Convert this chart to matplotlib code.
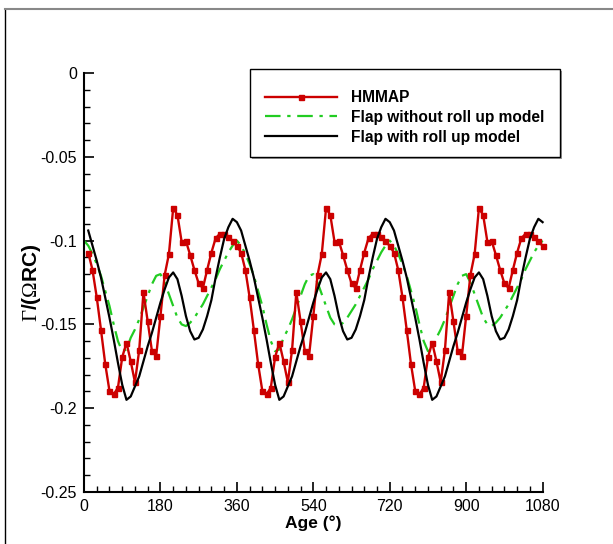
import numpy as np
import matplotlib
matplotlib.use("Agg")
import matplotlib.pyplot as plt
from matplotlib.patches import Rectangle
from matplotlib.lines import Line2D
from matplotlib.ticker import MultipleLocator

plt.rcParams['font.family'] = ['Liberation Sans', 'DejaVu Sans']
plt.rcParams['mathtext.fontset'] = 'custom'
plt.rcParams['mathtext.rm'] = 'Liberation Serif'
plt.rcParams['mathtext.bf'] = 'Liberation Sans:weight=bold'

# ---------------- data ----------------
hmmap_age = np.arange(10, 1081, 10)
hmmap = [
    -0.1072, -0.1175, -0.1338, -0.1533, -0.1736, -0.1897, -0.1917, -0.1877, -0.1696, -0.1609,
    -0.1720, -0.1845, -0.1653, -0.1308, -0.1482, -0.1659, -0.1687, -0.1450, -0.1205, -0.1080,
    -0.0807, -0.0847, -0.1008, -0.1002, -0.1086, -0.1175, -0.1255, -0.1283, -0.1175, -0.1072,
    -0.0986, -0.0959, -0.0959, -0.0980, -0.1002, -0.1032,
    -0.1072, -0.1175, -0.1338, -0.1533, -0.1736, -0.1897, -0.1917, -0.1877, -0.1696, -0.1609,
    -0.1720, -0.1845, -0.1653, -0.1308, -0.1482, -0.1659, -0.1687, -0.1450, -0.1205, -0.1080,
    -0.0807, -0.0847, -0.1008, -0.1002, -0.1086, -0.1175, -0.1255, -0.1283, -0.1175, -0.1072,
    -0.0986, -0.0959, -0.0959, -0.0980, -0.1002, -0.1032,
    -0.1072, -0.1175, -0.1338, -0.1533, -0.1736, -0.1897, -0.1917, -0.1877, -0.1696, -0.1609,
    -0.1720, -0.1845, -0.1653, -0.1308, -0.1482, -0.1659, -0.1687, -0.1450, -0.1205, -0.1080,
    -0.0807, -0.0847, -0.1008, -0.1002, -0.1086, -0.1175, -0.1255, -0.1283, -0.1175, -0.1072,
    -0.0986, -0.0959, -0.0959, -0.0980, -0.1002, -0.1032,
]

flap_roll_age = np.arange(10, 1081, 10)
flap_roll = [
    -0.094, -0.103, -0.112, -0.122, -0.134, -0.146, -0.159, -0.173, -0.186, -0.195,
    -0.193, -0.187, -0.181, -0.172, -0.163, -0.155, -0.146, -0.137, -0.129, -0.122,
    -0.119, -0.123, -0.133, -0.145, -0.154, -0.159, -0.158, -0.153, -0.145, -0.1355,
    -0.122, -0.110, -0.099, -0.092, -0.087, -0.089,
    -0.094, -0.103, -0.112, -0.122, -0.134, -0.146, -0.159, -0.173, -0.186, -0.195,
    -0.193, -0.187, -0.181, -0.172, -0.163, -0.155, -0.146, -0.137, -0.129, -0.122,
    -0.119, -0.123, -0.133, -0.145, -0.154, -0.159, -0.158, -0.153, -0.145, -0.1355,
    -0.122, -0.110, -0.099, -0.092, -0.087, -0.089,
    -0.094, -0.103, -0.112, -0.122, -0.134, -0.146, -0.159, -0.173, -0.186, -0.195,
    -0.193, -0.187, -0.181, -0.172, -0.163, -0.155, -0.146, -0.137, -0.129, -0.122,
    -0.119, -0.123, -0.133, -0.145, -0.154, -0.159, -0.158, -0.153, -0.145, -0.1355,
    -0.122, -0.110, -0.099, -0.092, -0.087, -0.089,
]

flap_noroll_age = np.arange(0, 1081, 10)
flap_noroll = [
    -0.100, -0.103, -0.108, -0.114, -0.121, -0.130, -0.139, -0.150, -0.160, -0.166,
    -0.165, -0.158, -0.153, -0.147, -0.140, -0.133, -0.126, -0.121, -0.120, -0.125,
    -0.132, -0.139, -0.146, -0.150, -0.151, -0.149, -0.146, -0.142, -0.138, -0.133,
    -0.128, -0.123, -0.117, -0.112, -0.107, -0.103,
    -0.100, -0.103, -0.108, -0.114, -0.121, -0.130, -0.139, -0.150, -0.160, -0.166,
    -0.165, -0.158, -0.153, -0.147, -0.140, -0.133, -0.126, -0.121, -0.120, -0.125,
    -0.132, -0.139, -0.146, -0.150, -0.151, -0.149, -0.146, -0.142, -0.138, -0.133,
    -0.128, -0.123, -0.117, -0.112, -0.107, -0.103,
    -0.100, -0.103, -0.108, -0.114, -0.121, -0.130, -0.139, -0.150, -0.160, -0.166,
    -0.165, -0.158, -0.153, -0.147, -0.140, -0.133, -0.126, -0.121, -0.120, -0.125,
    -0.132, -0.139, -0.146, -0.150, -0.151, -0.149, -0.146, -0.142, -0.138, -0.133,
    -0.128, -0.123, -0.117, -0.112, -0.107, -0.103,
    -0.100,
]

x_ticks = [0, 180, 360, 540, 720, 900, 1080]
y_ticks = [-0.25, -0.2, -0.15, -0.1, -0.05, 0]
y_ticklabels = ['-0.25', '-0.2', '-0.15', '-0.1', '-0.05', '0']
labels = ['HMMAP', 'Flap without roll up model', 'Flap with roll up model']

# ---------------- figure ----------------
W, H = 613, 544
fig = plt.figure(figsize=(W / 100, H / 100), dpi=100)
ax = fig.add_axes([84 / W, 1 - 492 / H, (542.6 - 84) / W, (492 - 73) / H])

red = '#cc0000'
green = '#22cc22'
l1, = ax.plot(hmmap_age, hmmap, color=red, lw=1.7, marker='s', ms=3.6,
              mec=red, mfc=red, clip_on=False, zorder=3)
l2, = ax.plot(flap_noroll_age, flap_noroll, color=green, lw=1.6,
              dashes=[7, 3, 1.5, 3], clip_on=False, zorder=2)
l3, = ax.plot(flap_roll_age, flap_roll, color='black', lw=1.6,
              clip_on=False, zorder=4)

ax.set_xlim(0, 1080)
ax.set_ylim(-0.25, 0)
ax.set_xticks(x_ticks)
ax.set_xticklabels([str(v) for v in x_ticks])
ax.set_yticks(y_ticks)
ax.set_yticklabels(y_ticklabels)
ax.xaxis.set_minor_locator(MultipleLocator(30))
ax.yaxis.set_minor_locator(MultipleLocator(0.01))
ax.tick_params(which='major', direction='in', length=7, width=1.2,
               labelsize=11.5, pad=5, top=False, right=False)
ax.tick_params(which='minor', direction='in', length=4, width=1.0,
               top=False, right=False)
for s in ['top', 'right']:
    ax.spines[s].set_visible(False)
for s in ['left', 'bottom']:
    ax.spines[s].set_linewidth(1.5)

ax.set_xlabel('Age (°)', fontsize=12.5, fontweight='bold', labelpad=1)
ax.set_ylabel(r'$\Gamma\mathbf{/(}\Omega\mathbf{RC)}$', fontsize=15, labelpad=-2)

# figure frame (left and top)
fig.add_artist(Line2D([5 / W, 5 / W], [0, 1 - 9 / H], transform=fig.transFigure,
                      color='black', lw=1.0))
fig.add_artist(Line2D([5 / W, 1], [1 - 9 / H, 1 - 9 / H], transform=fig.transFigure,
                      color='#888888', lw=1.5))

# legend box with shadow
lx0, lx1, ly0, ly1 = 250, 560, 69, 157
fig.add_artist(Rectangle(((lx0 + 2) / W, 1 - (ly1 + 2) / H), (lx1 - lx0) / W,
                         (ly1 - ly0) / H, transform=fig.transFigure,
                         facecolor='#999999', edgecolor='none', zorder=5))
fig.add_artist(Rectangle((lx0 / W, 1 - ly1 / H), (lx1 - lx0) / W, (ly1 - ly0) / H,
                         transform=fig.transFigure, facecolor='white',
                         edgecolor='black', lw=1.0, zorder=6))
leg = fig.legend([l1, l2, l3], labels, loc='upper left',
                 bbox_to_anchor=(265 / W, 1 - 90 / H), frameon=False,
                 borderpad=0, borderaxespad=0, handlelength=4.6,
                 handletextpad=0.9, labelspacing=0.31, numpoints=1,
                 prop={'size': 11.2, 'weight': 'bold'})
leg.set_zorder(7)

fig.savefig('out.png', dpi=100)
